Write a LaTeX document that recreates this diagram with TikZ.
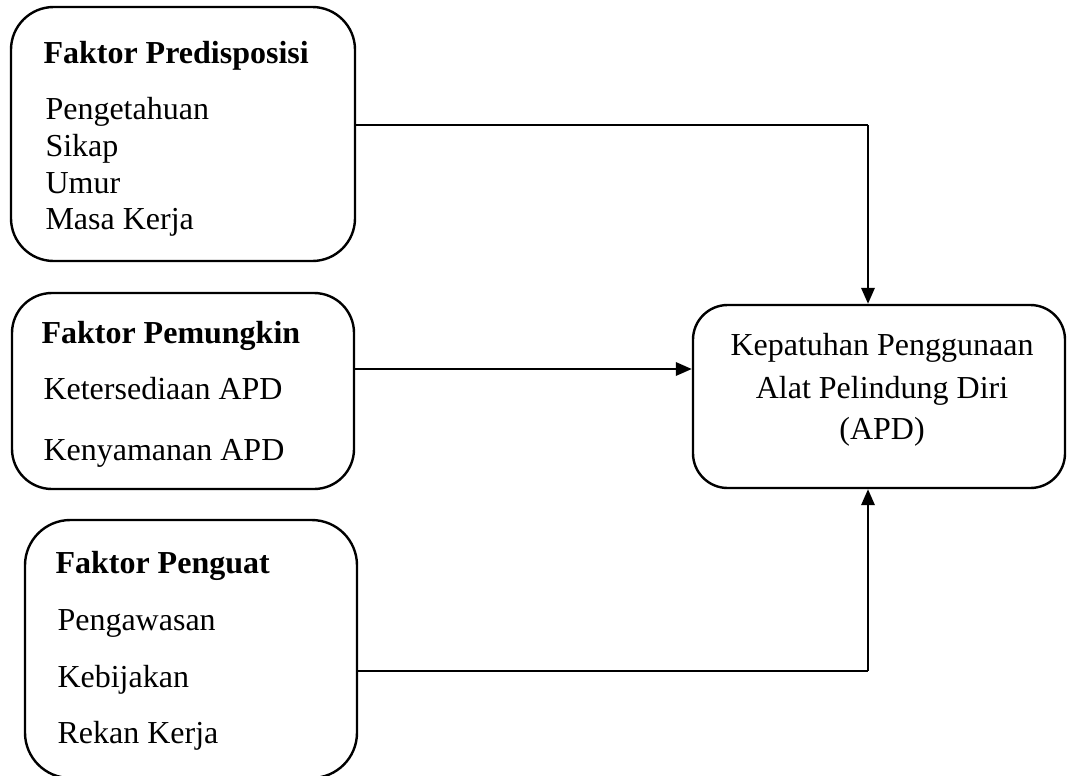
\documentclass[tikz,border=0pt]{standalone}
\usepackage{fontspec}
\setmainfont{Liberation Serif}
\usetikzlibrary{arrows.meta,positioning}
\newcommand{\pxl}{0.375pt}
\tikzset{
  >={Triangle[length=6pt,width=5pt]},
  every picture/.style={line join=round},
  box/.style={draw=black, line width=0.9pt, rounded corners=#1, inner sep=0pt},
  box/.default=15pt,
  head/.style={font=\fontsize{12pt}{14pt}\selectfont\bfseries, anchor=base west, inner sep=0pt},
  item/.style={font=\fontsize{12pt}{14pt}\selectfont, anchor=base west, inner sep=0pt},
  mid/.style={font=\fontsize{12pt}{14pt}\selectfont, anchor=base, inner sep=0pt},
  link/.style={line width=0.45pt},
  arr/.style={line width=0.9pt, ->},
}

\begin{document}
\begin{tikzpicture}[x=\pxl, y=-\pxl]
\useasboundingbox (0,0) rectangle (1067,775);
% the four boxes
\node[box=16pt, minimum width=344*\pxl, minimum height=254*\pxl] (pre) at (183,134) {};
\node[box=15pt, minimum width=342*\pxl, minimum height=196*\pxl] (pem) at (183,391) {};
\node[box=17pt, minimum width=332*\pxl, minimum height=258*\pxl] (pen) at (191,649) {};
\node[box=13pt, minimum width=372*\pxl, minimum height=183*\pxl] (apd) at (879,396.5) {};
% faktor predisposisi
\node[head] (pre-t) at (43,63) {Faktor Predisposisi};
\foreach \t/\y [count=\i] in {Pengetahuan/119, Sikap/156, Umur/193, Masa Kerja/229}
  \node[item] (pre-\i) at (45,\y) {\t};
% faktor pemungkin
\node[head] (pem-t) at (41,343) {Faktor Pemungkin};
\foreach \t/\y [count=\i] in {Ketersediaan APD/399, Kenyamanan APD/460}
  \node[item] (pem-\i) at (43,\y) {\t};
% faktor penguat
\node[head] (pen-t) at (55,573) {Faktor Penguat};
\foreach \t/\y [count=\i] in {Pengawasan/630, Kebijakan/687, Rekan Kerja/743}
  \node[item] (pen-\i) at (57,\y) {\t};
% outcome
\foreach \t/\y [count=\i] in {Kepatuhan Penggunaan/355, Alat Pelindung Diri/398, (APD)/439}
  \node[mid] (apd-\i) at (882,\y) {\t};
% connectors
\coordinate (c1) at (868,125);
\coordinate (c2) at (500,369);
\coordinate (c3) at (868,671);
\draw[link] (pre.east |- c1) -- (c1);
\draw[arr] (c1) -- (c1 |- apd.north);
\draw[arr] (pem.east |- c2) -- (apd.west |- c2);
\draw[link] (pen.east |- c3) -- (c3);
\draw[arr] (c3) -- (c3 |- apd.south);
\end{tikzpicture}
\end{document}
